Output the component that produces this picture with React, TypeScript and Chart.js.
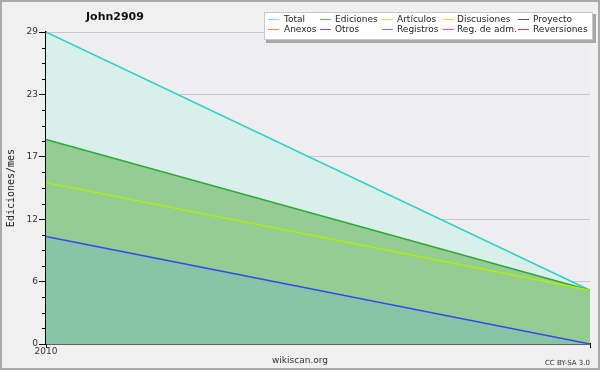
import React, { useEffect, useRef } from "react";
import { Chart, registerables } from "chart.js";

Chart.register(...registerables);

const xLabels = ["2010", ""];
const totalValues = [29, 5];
const edicionesValues = [19, 5];
const articulosValues = [15, 5];
const registrosValues = [10, 0];

const yTickValues = [0, 5.8, 11.6, 17.4, 23.2, 29];
const yTickLabels = ["0", "6", "12", "17", "23", "29"];

const legendNames = [
  "Total", "Ediciones", "Artículos", "Discusiones", "Proyecto",
  "Anexos", "Otros", "Registros", "Reg. de adm.", "Reversiones",
];
const legendColors = [
  "#80e0e0", "#60c060", "#c0f040", "#ffcc33", "#555555",
  "#ff8040", "#8040e0", "#6080ff", "#e040ff", "#ff3030",
];

const chartTitle = "John2909";
const yAxisTitle = "Ediciones/mes";
const footerCenter = "wikiscan.org";
const footerRight = "CC BY-SA 3.0";

const decorPlugin = {
  id: "decor",
  beforeDraw(chart: any) {
    const { ctx, chartArea } = chart;
    ctx.save();
    ctx.fillStyle = "#f0f0f0";
    ctx.fillRect(0, 0, chart.width, chart.height);
    ctx.fillStyle = "#eeeef0";
    ctx.fillRect(chartArea.left, chartArea.top, chartArea.right - chartArea.left, chartArea.bottom - chartArea.top);
    ctx.restore();
  },
  afterDraw(chart: any) {
    const { ctx, chartArea } = chart;
    const yScale = chart.scales.y;
    ctx.save();
    // minor ticks
    ctx.strokeStyle = "#000";
    ctx.lineWidth = 1;
    for (let i = 0; i < yTickValues.length - 1; i++) {
      const a = yTickValues[i];
      const b = yTickValues[i + 1];
      for (let k = 1; k < 4; k++) {
        const v = a + ((b - a) * k) / 4;
        const py = Math.round(yScale.getPixelForValue(v)) + 0.5;
        ctx.beginPath();
        ctx.moveTo(chartArea.left - 4, py);
        ctx.lineTo(chartArea.left, py);
        ctx.stroke();
      }
    }
    // title
    ctx.fillStyle = "#111";
    ctx.font = "bold 11px 'DejaVu Sans'";
    ctx.textAlign = "left";
    ctx.textBaseline = "middle";
    ctx.fillText(chartTitle, 86, 17);
    // y axis title
    ctx.save();
    ctx.translate(11, (chartArea.top + chartArea.bottom) / 2);
    ctx.rotate(-Math.PI / 2);
    ctx.textAlign = "center";
    ctx.font = "10px 'DejaVu Sans Mono'";
    ctx.fillStyle = "#222";
    ctx.fillText(yAxisTitle, 0, 0);
    ctx.restore();
    // footer
    ctx.font = "9px 'DejaVu Sans'";
    ctx.fillStyle = "#333";
    ctx.textAlign = "center";
    ctx.fillText(footerCenter, 300, 361);
    ctx.font = "7px 'DejaVu Sans'";
    ctx.textAlign = "right";
    ctx.fillText(footerRight, 590, 363);
    // legend box
    ctx.fillStyle = "#a8a8a8";
    ctx.fillRect(266, 14, 330, 29);
    ctx.fillStyle = "#ffffff";
    ctx.fillRect(264, 12, 329, 28);
    ctx.strokeStyle = "#c8c8c8";
    ctx.lineWidth = 1;
    ctx.strokeRect(264.5, 12.5, 328, 27);
    const sampleX = [268, 320, 382, 443, 518];
    const textX = [284, 335, 397, 457, 533];
    const rowY = [19, 29];
    ctx.font = "9px 'DejaVu Sans'";
    ctx.textAlign = "left";
    ctx.textBaseline = "middle";
    for (let i = 0; i < legendNames.length; i++) {
      const col = i % 5;
      const row = Math.floor(i / 5);
      const y = rowY[row];
      ctx.strokeStyle = legendColors[i];
      ctx.lineWidth = 1;
      ctx.beginPath();
      ctx.moveTo(sampleX[col], y + 0.5);
      ctx.lineTo(sampleX[col] + 11, y + 0.5);
      ctx.stroke();
      ctx.fillStyle = "#222";
      ctx.fillText(legendNames[i], textX[col], y + 1);
    }
    // outer border
    ctx.strokeStyle = "#aaaaaa";
    ctx.lineWidth = 2;
    ctx.strokeRect(1, 1, chart.width - 2, chart.height - 2);
    ctx.restore();
  },
};

export default function App() {
  const canvasRef = useRef<HTMLCanvasElement | null>(null);

  useEffect(() => {
    document.body.style.margin = "0";
    const canvas = canvasRef.current;
    if (!canvas) return;
    const chart = new Chart(canvas, {
      type: "line",
      data: {
        labels: xLabels,
        datasets: [
          {
            label: "Total",
            data: totalValues,
            borderColor: "#30d0c8",
            backgroundColor: "#d9f0ea",
            fill: "origin",
            order: 4,
          },
          {
            label: "Ediciones",
            data: edicionesValues,
            borderColor: "#30a838",
            backgroundColor: "#94cc94",
            fill: "origin",
            order: 3,
          },
          {
            label: "Artículos",
            data: articulosValues,
            borderColor: "#b0f000",
            backgroundColor: "transparent",
            fill: false,
            order: 2,
          },
          {
            label: "Registros",
            data: registrosValues,
            borderColor: "#3848f0",
            backgroundColor: "#88c4a6",
            fill: "origin",
            order: 1,
          },
        ],
      },
      options: {
        animation: false,
        responsive: false,
        maintainAspectRatio: false,
        layout: { padding: { top: 32, right: 10, left: 0, bottom: 0 } },
        elements: {
          line: { tension: 0, borderWidth: 1.5 },
          point: { radius: 0, hoverRadius: 0 },
        },
        plugins: {
          legend: { display: false },
          title: { display: false },
          tooltip: { enabled: false },
          filler: { drawTime: "beforeDatasetsDraw" },
        },
        scales: {
          x: {
            type: "category",
            offset: false,
            afterFit: (scale: any) => {
              scale.height = 26;
            },
            grid: {
              display: true,
              drawOnChartArea: false,
              tickLength: 4,
              tickColor: "#000",
            },
            border: { color: "#000", width: 1.5 },
            ticks: {
              color: "#333",
              font: { family: "DejaVu Sans", size: 9 },
              padding: -2,
              maxRotation: 0,
              autoSkip: false,
            },
          },
          y: {
            type: "linear",
            min: 0,
            max: 29,
            afterBuildTicks: (scale: any) => {
              scale.ticks = yTickValues.map((v) => ({ value: v }));
            },
            afterFit: (scale: any) => {
              scale.width = 46;
            },
            grid: {
              color: "#c8c8c8",
              lineWidth: 1,
              tickLength: 7,
              tickColor: "#000",
            },
            border: { color: "#000", width: 1.5 },
            ticks: {
              color: "#333",
              font: { family: "DejaVu Sans", size: 9 },
              padding: 1,
              callback: (_v: any, i: number) => yTickLabels[i],
            },
          },
        },
      },
      plugins: [decorPlugin],
    });
    return () => chart.destroy();
  }, []);

  return (
    <div style={{ position: "absolute", left: 0, top: 0, width: 600, height: 370 }}>
      <canvas ref={canvasRef} width={600} height={370} />
    </div>
  );
}
